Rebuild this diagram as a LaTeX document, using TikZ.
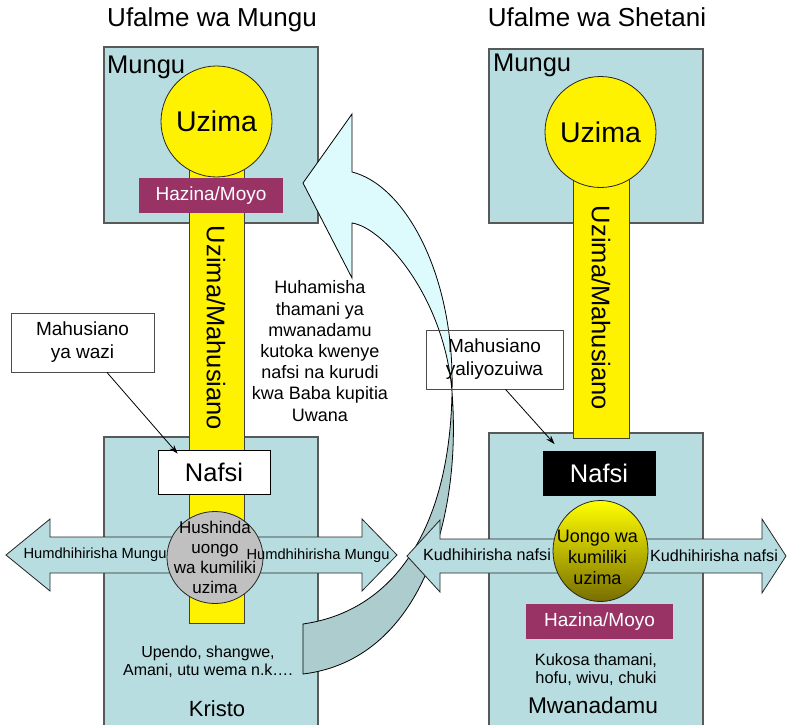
\documentclass[tikz,border=0pt]{standalone}
\usepackage{fontspec}
\setmainfont{Liberation Sans}
\usetikzlibrary{arrows.meta, shapes.geometric, calc}
\tikzset{>={Stealth[length=9pt,width=6pt]}}

\definecolor{panelblue}{RGB}{183,221,224}
\definecolor{hazina}{RGB}{153,51,102}
\definecolor{shaftfront}{RGB}{221,250,252}
\definecolor{shaftback}{RGB}{172,204,206}
\definecolor{liegold}{RGB}{120,110,0}
\definecolor{soulgray}{RGB}{192,192,192}
\newcommand\fsz[2]{\fontsize{#1}{#2}\selectfont}

\begin{document}
\begin{tikzpicture}[x=1pt, y=-1pt,
    panel/.style={draw=black!65, fill=panelblue, line width=1.2pt},
    lifebar/.style={draw=black!75, fill=yellow, line width=0.8pt},
    lifeball/.style={circle, draw=black!85, fill=yellow, line width=0.8pt,
      minimum size=111pt, inner sep=0pt, font=\fsz{28.5}{34}},
    treasure/.style={fill=hazina, text=white, minimum width=144pt,
      minimum height=35pt, inner sep=0pt, font=\fsz{19}{23}},
    soulbox/.style={draw=black, line width=0.8pt, minimum width=112pt,
      minimum height=44pt, inner sep=0pt, font=\fsz{25.5}{30}},
    wayarrow/.style={draw=black!85, fill=panelblue, line width=0.8pt},
    notebox/.style={draw=black!70, line width=0.8pt, align=center,
      inner sep=0pt, font=\fsz{19}{23}},
    connector/.style={->, line width=0.8pt}]
\useasboundingbox (0,0) rectangle (787,725);

% Ufalme wa Mungu
\node[anchor=base, font=\fsz{26}{30}] (titleL) at (212,27) {Ufalme wa Mungu};
\draw[panel] (104,47) rectangle (318,223);
\node[anchor=base west, inner sep=0pt, font=\fsz{25.5}{30}] (munguL) at (107,74) {Mungu};
\draw[panel] (104,437) rectangle (318,730);
\draw[lifebar] (189,165) rectangle (244,623);
\node[lifeball] (uzimaL) at (216.5,121.5) {Uzima};
\node[treasure] (hazinaL) at (211,195.5) {Hazina/Moyo};
\node[rotate=-90, font=\fsz{25.5}{30}] (mahusL) at (216,328) {Uzima/Mahusiano};
\node[soulbox, fill=white] (nafsiL) at (214,472) {Nafsi};
\draw[wayarrow] (185,537) -- (50,537) -- (50,519) -- (6,555) -- (50,591) -- (50,573) -- (185,573) -- cycle;
\draw[wayarrow] (245,537) -- (362,537) -- (362,519) -- (397,555) -- (362,591) -- (362,573) -- (245,573) -- cycle;
\node[ellipse, draw=black!85, fill=soulgray, line width=0.8pt, minimum width=96pt,
  minimum height=92pt, inner sep=0pt] (graceL) at (215,557.5) {};
\node[align=center, font=\fsz{17}{20}] (graceTxt) at (215,557) {Hushinda\\uongo\\wa kumiliki\\uzima};
\node[font=\fsz{14.7}{17}] (showL1) at (95,555) {Humdhihirisha Mungu};
\node[font=\fsz{14.7}{17}] (showL2) at (318,556) {Humdhihirisha Mungu};
\node[align=center, font=\fsz{16}{18}] (fruitL) at (208,662) {Upendo, shangwe,\\Amani, utu wema n.k….};
\node[anchor=base, font=\fsz{22}{26}] (kristo) at (217,716) {Kristo};

% mshale wa kurudi kwa Baba
\draw[fill=shaftback, line width=0.8pt] (452,392) .. controls (462,520) and (420,660) .. (303,674)
  -- (303,624) .. controls (400,610) and (450,520) .. (452,392);
\draw[fill=shaftfront, line width=0.8pt] (303,183) -- (352,114) -- (352,172)
  .. controls (405,185) and (455,275) .. (452,392)
  .. controls (445,300) and (385,228) .. (352,223) -- (352,278) -- cycle;
\node[align=center, font=\fsz{18}{21.2}] (huhamisha) at (320,351)
  {Huhamisha\\thamani ya\\mwanadamu\\kutoka kwenye\\nafsi na kurudi\\kwa Baba kupitia\\Uwana};

% Ufalme wa Shetani
\node[anchor=base, font=\fsz{26}{30}] (titleR) at (597,27) {Ufalme wa Shetani};
\draw[panel] (489,49) rectangle (703,223);
\node[anchor=base west, inner sep=0pt, font=\fsz{25.5}{30}] (munguR) at (493,72) {Mungu};
\draw[panel] (489,433) rectangle (703,730);
\draw[lifebar] (573,175) rectangle (629,438);
\node[lifeball] (uzimaR) at (600.5,132) {Uzima};
\node[rotate=-90, font=\fsz{25.5}{30}] (mahusR) at (601,308) {Uzima/Mahusiano};
\node[soulbox, fill=black, text=white] (nafsiR) at (599,473.5) {Nafsi};
\draw[wayarrow] (570,539) -- (440,539) -- (440,520) -- (407,556) -- (440,592) -- (440,573) -- (570,573) -- cycle;
\draw[wayarrow] (630,539) -- (762,539) -- (762,519) -- (786,556) -- (762,593) -- (762,573) -- (630,573) -- cycle;
\node[ellipse, draw=black!85, top color=yellow, bottom color=liegold, line width=0.8pt,
  minimum width=95pt, minimum height=101pt, inner sep=0pt] (lieR) at (600.5,551) {};
\node[align=center, font=\fsz{18}{21}] (lieTxt) at (597.5,557) {Uongo wa\\kumiliki\\uzima};
\node[font=\fsz{16.2}{19}] (showR1) at (487,555) {Kudhihirisha nafsi};
\node[font=\fsz{16.2}{19}] (showR2) at (714,556) {Kudhihirisha nafsi};
\node[treasure, minimum width=147pt] (hazinaR) at (599.5,621.5) {Hazina/Moyo};
\node[align=center, font=\fsz{16.4}{18}] (fruitR) at (596,670) {Kukosa thamani,\\hofu, wivu, chuki};
\node[anchor=base, font=\fsz{22.7}{26}] (mwanadamu) at (593,713) {Mwanadamu};

% mahusiano
\node[notebox, fill=white, minimum width=143pt, minimum height=59pt] (wazi) at (82.5,342.5) {Mahusiano\\ya wazi};
\node[notebox, minimum width=137pt, minimum height=59pt] (zuiwa) at (494.5,359.5) {Mahusiano\\yaliyozuiwa};
\draw[connector] ($(wazi.south west)!0.67!(wazi.south east)$) -- ($(nafsiL.north west)+(20,4)$);
\draw[connector] ($(zuiwa.south west)!0.58!(zuiwa.south east)$) -- ($(nafsiR.north west)+(12,-7)$);
\end{tikzpicture}
\end{document}
